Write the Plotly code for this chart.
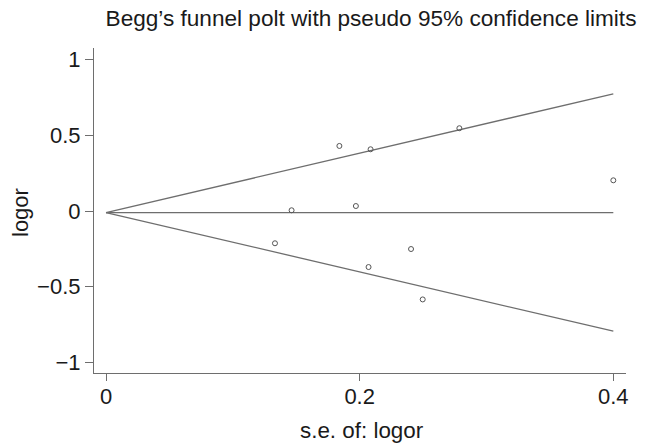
import plotly.graph_objects as go

# data
se = [0.184, 0.2086, 0.2786, 0.1463, 0.197, 0.1332, 0.2405, 0.207, 0.2497, 0.400]
logor = [0.43, 0.408, 0.547, 0.005, 0.033, -0.213, -0.251, -0.370, -0.584, 0.203]
pooled = -0.01
se_max = 0.4
x_ticks = [0, 0.2, 0.4]
x_tick_labels = ["0", "0.2", "0.4"]
y_ticks = [-1, -0.5, 0, 0.5, 1]
y_tick_labels = ["\u22121", "\u22120.5", "0", "0.5", "1"]

line_color = "#6e6e6e"
text_color = "#1a1a1a"
font_family = "Liberation Sans, Arial, Helvetica, sans-serif"
fs = 22

# the page body adds an 8px offset; plot region target (page px): x 94..626, y 48..373
off = 8
L, R, T, B = 94 - off, 626 - off, 48 - off, 373 - off
W, H = 657, 444
pw, ph = R - L, B - T

fig = go.Figure()
# pseudo 95% confidence limits
fig.add_trace(go.Scatter(x=[0, se_max], y=[pooled, pooled + 1.96 * se_max], mode="lines",
                         line=dict(color=line_color, width=1.3), showlegend=False, hoverinfo="skip"))
fig.add_trace(go.Scatter(x=[0, se_max], y=[pooled, pooled - 1.96 * se_max], mode="lines",
                         line=dict(color=line_color, width=1.3), showlegend=False, hoverinfo="skip"))
fig.add_trace(go.Scatter(x=[0, se_max], y=[pooled, pooled], mode="lines",
                         line=dict(color=line_color, width=1.3), showlegend=False, hoverinfo="skip"))
fig.add_trace(go.Scatter(x=se, y=logor, mode="markers",
                         marker=dict(symbol="circle-open", size=5, color="#555555", line=dict(width=1)),
                         showlegend=False))

fig.update_layout(
    width=W, height=H,
    margin=dict(l=L, r=W - R, t=T, b=H - B, autoexpand=False),
    paper_bgcolor="white", plot_bgcolor="white",
    font=dict(family=font_family, size=fs, color=text_color),
    title=dict(text="Begg\u2019s funnel polt with pseudo 95% confidence limits",
               x=(371 - off) / W, xref="container", xanchor="center",
               y=1 - (18 - off) / H, yref="container", yanchor="middle",
               font=dict(size=22.6, family=font_family, color=text_color)),
    annotations=[
        dict(text="s.e. of: logor", xref="paper", yref="paper",
             x=(362 - 94) / pw, y=-(430 - 373) / ph, xanchor="center", yanchor="middle",
             showarrow=False, font=dict(size=22.4)),
        dict(text="logor", xref="paper", yref="paper", textangle=-90,
             x=-(94 - 20) / pw, y=(373 - 213) / ph, xanchor="center", yanchor="middle",
             showarrow=False, font=dict(size=fs)),
    ],
)
fig.update_xaxes(range=[-0.0095, 0.410], tickvals=x_ticks, ticktext=x_tick_labels,
                 showgrid=False, zeroline=False, showline=True, linecolor=line_color, linewidth=1.2,
                 ticks="outside", ticklen=7, tickcolor=line_color, tickwidth=1.2,
                 ticklabelstandoff=-4, automargin=False, tickfont=dict(size=fs))
fig.update_yaxes(range=[-1.07, 1.077], tickvals=y_ticks, ticktext=y_tick_labels,
                 showgrid=False, zeroline=False, showline=True, linecolor=line_color, linewidth=1.2,
                 ticks="outside", ticklen=8, tickcolor=line_color, tickwidth=1.2,
                 automargin=False, tickfont=dict(size=fs))

fig.write_html("out.html")
